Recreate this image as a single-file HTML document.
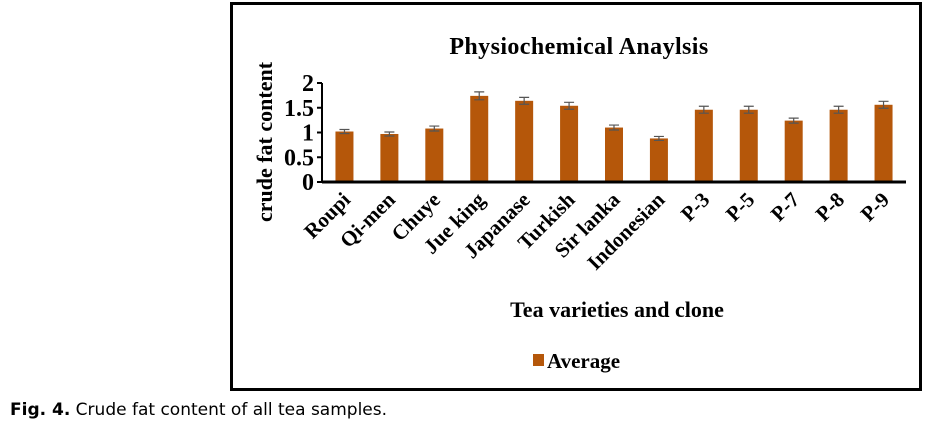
<!DOCTYPE html>
<html><head><meta charset="utf-8"><style>
html,body{margin:0;padding:0;background:#fff;width:940px;height:427px;overflow:hidden}
svg{display:block}
</style></head><body>
<svg width="940" height="427" xmlns="http://www.w3.org/2000/svg">
<rect x="231.5" y="3.5" width="689" height="386" fill="#fff" stroke="#000" stroke-width="3"/>
<text x="579" y="54" text-anchor="middle" font-family="Liberation Serif, serif" font-weight="bold" font-size="24" letter-spacing="0.4">Physiochemical Anaylsis</text>
<text transform="translate(272,142) rotate(-90)" text-anchor="middle" font-family="Liberation Serif, serif" font-weight="bold" font-size="22">crude fat content</text>
<g id="yaxis"></g>
<g id="bars"></g>
<g id="xlabels"></g>
<text x="617" y="317" text-anchor="middle" font-family="Liberation Serif, serif" font-weight="bold" font-size="22">Tea varieties and clone</text>
<rect x="533" y="354" width="11" height="12" fill="#b5570a"/>
<text x="547" y="368" font-family="Liberation Serif, serif" font-weight="bold" font-size="21">Average</text>
<text x="10" y="415" font-family="DejaVu Sans, sans-serif" font-size="17"><tspan font-weight="bold">Fig. 4.</tspan> Crude fat content of all tea samples.</text>
<script>
const categories=["Roupi","Qi-men","Chuye","Jue king","Japanase","Turkish","Sir lanka","Indonesian","P-3","P-5","P-7","P-8","P-9"];
const averages=[1.02,0.97,1.08,1.74,1.64,1.54,1.10,0.88,1.46,1.46,1.24,1.46,1.56];
const errors=[0.04,0.04,0.05,0.08,0.07,0.07,0.05,0.04,0.07,0.07,0.05,0.07,0.07];
const yTicks=[0,0.5,1,1.5,2];
const NS="http://www.w3.org/2000/svg";
const x0=322,x1=906,yBase=182,yTop=83;
const ys=v=>yBase-(yBase-yTop)*v/2;
const step=(x1-x0)/categories.length;
const xs=i=>x0+step*(i+0.5);
function mk(tag,attrs,parent){const e=document.createElementNS(NS,tag);for(const k in attrs)e.setAttribute(k,attrs[k]);parent.appendChild(e);return e;}
const ya=document.getElementById('yaxis');
let l=mk('line',{x1:x0,x2:x0,y1:yTop,y2:yBase,stroke:'#000','stroke-width':2},ya);


yTicks.forEach(t=>{
 const tk=mk('line',{x1:x0-5,x2:x0,y1:ys(t),y2:ys(t),stroke:'#000','stroke-width':2},ya);
 
 
 const tx=mk('text',{x:x0-8,y:ys(t)+8,'text-anchor':'end','font-family':'Liberation Serif, serif','font-weight':'bold','font-size':24},ya);
 tx.textContent=String(t);
 
 
});
const bg=document.getElementById('bars');
averages.forEach((v,i)=>{
 const cx=xs(i);
 const r=mk('rect',{x:cx-9,y:ys(v),width:18,height:yBase-ys(v),fill:'#b5570a'},bg);
 
 
 const e=errors[i];
 const g=mk('path',{d:`M${cx} ${ys(v+e)}V${ys(v-e)}M${cx-5} ${ys(v+e)}H${cx+5}M${cx-5} ${ys(v-e)}H${cx+5}`,stroke:'#555','stroke-width':1.2,fill:'none'},bg);
 
 
});
const xl=mk('line',{x1:x0,x2:x1,y1:yBase,y2:yBase,stroke:'#000','stroke-width':3},bg);


const lg=document.getElementById('xlabels');
categories.forEach((c,i)=>{
 const cx=xs(i)+7,cy=201;
 const t=mk('text',{x:cx,y:cy,'text-anchor':'end',transform:`rotate(-45 ${cx} ${cy})`,'font-family':'Liberation Serif, serif','font-weight':'bold','font-size':21},lg);
 t.textContent=c;
 
 
});
</script>
</svg>
</body></html>
